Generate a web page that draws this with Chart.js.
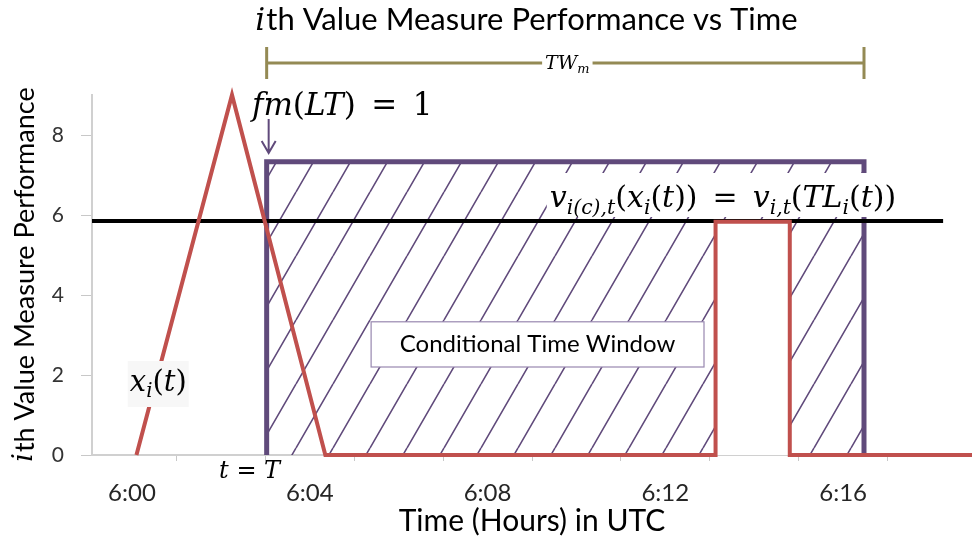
<!DOCTYPE html>
<html>
<head>
<meta charset="utf-8">
<title>ith Value Measure Performance vs Time</title>
<script src="https://cdn.jsdelivr.net/npm/chart.js@4.4.0/dist/chart.umd.min.js"></script>
<style>
  html, body { margin: 0; padding: 0; background: #fff; }
  canvas { display: block; }
</style>
</head>
<body>
<canvas id="chart" width="972" height="539"></canvas>
<script>
// time is in minutes after 6:00 UTC
const tickMinutes = [0, 4, 8, 12, 16]
const tickLabels = ['6:00', '6:04', '6:08', '6:12', '6:16']
const yTicks = [0, 2, 4, 6, 8]

// x_i(t): the red performance curve
const xiTime = [0.1, 2.25, 4.35, 13.13, 13.13, 14.8, 14.8, 18.9]
const xiValue = [0, 9, 0, 0, 5.83, 5.83, 0, 0]

// conditional time window (hatched)
const windowTime = [3.03, 3.03, 16.47, 16.47]
const windowValue = [0, 7.33, 7.33, 0]

// threshold v_i,t(TL_i(t))
const thresholdTime = [-0.9, 18.25]
const thresholdValue = [5.85, 5.85]

const xMin = -0.9
const xMax = 18.9
const yMax = 9

const red = '#C0504D'
const purple = '#604A7B'
const olive = '#948A54'
const textFont = "Lato, 'Open Sans', sans-serif"
const mathFont = "'DejaVu Serif', serif"
const gap = '\u2002'

const canvas = document.getElementById('chart')
const mainCtx = canvas.getContext('2d')

const toPoints = (xs, ys) => xs.map((v, i) => ({ x: v, y: ys[i] }))

const makeHatch = () => {
  const w = 37
  const h = 64
  const c = document.createElement('canvas')
  c.width = w
  c.height = h
  const g = c.getContext('2d')
  g.strokeStyle = purple
  g.lineWidth = 1.6
  g.beginPath()
  for (const dx of [-w, 0, w]) {
    g.moveTo(dx, h)
    g.lineTo(dx + w, 0)
  }
  g.stroke()
  return mainCtx.createPattern(c, 'repeat')
}

// draws a list of [text, style] pieces; style: i = italic, s = subscript
const drawMath = (ctx, parts, x, y, size, measureOnly) => {
  let cx = x
  parts.forEach(([text, style]) => {
    const sub = style.includes('s')
    const fs = sub ? size * 0.68 : size
    ctx.font = `${style.includes('i') ? 'italic ' : ''}${fs}px ${mathFont}`
    if (!measureOnly) ctx.fillText(text, cx, sub ? y + size * 0.22 : y)
    cx += ctx.measureText(text).width
  })
  return cx - x
}

const drawItalicLead = (ctx, rest, cx, cy, size) => {
  ctx.font = `italic ${size}px ${mathFont}`
  const w1 = ctx.measureText('i').width
  ctx.font = `${size}px ${textFont}`
  const w2 = ctx.measureText(rest).width
  const left = cx - (w1 + w2) / 2
  ctx.textAlign = 'left'
  ctx.font = `italic ${size}px ${mathFont}`
  ctx.fillText('i', left, cy)
  ctx.font = `${size}px ${textFont}`
  ctx.fillText(rest, left + w1 + 1, cy)
}

const annotations = {
  id: 'annotations',
  afterDraw (chart) {
    const { ctx, scales: { x, y } } = chart
    const px = v => x.getPixelForValue(v)
    const py = v => y.getPixelForValue(v)
    ctx.save()
    ctx.fillStyle = '#000'
    ctx.textBaseline = 'alphabetic'

    // chart title
    drawItalicLead(ctx, 'th Value Measure Performance vs Time', 526, 30, 31)

    // y axis title
    ctx.save()
    ctx.translate(25, (y.top + y.bottom) / 2)
    ctx.rotate(-Math.PI / 2)
    ctx.textBaseline = 'middle'
    drawItalicLead(ctx, 'th Value Measure Performance', 0, 0, 27)
    ctx.restore()

    // TW_m bracket over the window
    const bx1 = px(windowTime[0])
    const bx2 = px(windowTime[3])
    const by = py(9.8)
    ctx.strokeStyle = olive
    ctx.lineWidth = 3
    ctx.beginPath()
    ctx.moveTo(bx1, by); ctx.lineTo(bx2, by)
    ctx.moveTo(bx1, py(10.2)); ctx.lineTo(bx1, py(9.4))
    ctx.moveTo(bx2, py(10.2)); ctx.lineTo(bx2, py(9.4))
    ctx.stroke()
    const twParts = [['TW', 'i'], ['m', 'is']]
    const twW = drawMath(ctx, twParts, 0, 0, 19, true)
    const twX = (bx1 + bx2) / 2 - twW / 2 + 2
    ctx.fillStyle = '#fff'
    ctx.fillRect(twX - 3, by - 10, twW + 6, 20)
    ctx.fillStyle = '#000'
    drawMath(ctx, twParts, twX, by + 6, 19)

    // fm(LT) = 1 with arrow
    drawMath(ctx, [['fm', 'i'], ['(', 'r'], ['LT', 'i'], [')', 'r'], [gap + '=' + gap + '1', 'r']], px(2.7), py(8.5), 31)
    const ax = px(windowTime[0]) + 2
    ctx.strokeStyle = purple
    ctx.lineWidth = 2
    ctx.beginPath()
    ctx.moveTo(ax, py(8.4)); ctx.lineTo(ax, py(7.55))
    ctx.moveTo(ax - 7, py(7.85)); ctx.lineTo(ax, py(7.55)); ctx.lineTo(ax + 7, py(7.85))
    ctx.stroke()

    // v_i(c),t(x_i(t)) = v_i,t(TL_i(t))
    const eq = [
      ['v', 'i'], ['i(c),t', 'is'], ['(', 'r'], ['x', 'i'], ['i', 'is'], ['(', 'r'], ['t', 'i'], [')', 'r'], [')', 'r'],
      [gap + '=' + gap, 'r'],
      ['v', 'i'], ['i,t', 'is'], ['(', 'r'], ['TL', 'i'], ['i', 'is'], ['(', 'r'], ['t', 'i'], [')', 'r'], [')', 'r']
    ]
    const eqW = drawMath(ctx, eq, 0, 0, 30, true)
    const eqX = px(9.4)
    ctx.fillStyle = '#fff'
    ctx.fillRect(eqX - 3, py(7.05), eqW + 8, py(5.95) - py(7.05))
    ctx.fillStyle = '#000'
    drawMath(ctx, eq, eqX, py(6.2), 30)

    // x_i(t) label
    const xiParts = [['x', 'i'], ['i', 'is'], ['(', 'r'], ['t', 'i'], [')', 'r']]
    const xiW = drawMath(ctx, xiParts, 0, 0, 29, true)
    ctx.fillStyle = '#f7f7f7'
    ctx.fillRect(px(-0.05) - 2, py(2.35), xiW + 4, py(1.2) - py(2.35))
    ctx.fillStyle = '#000'
    drawMath(ctx, xiParts, px(-0.05), py(1.6), 29)

    // t = T
    drawMath(ctx, [['t', 'i'], [' = ', 'r'], ['T', 'i']], px(1.96), py(-0.58), 24)

    // Conditional Time Window box
    const cx1 = px(5.38)
    const cx2 = px(12.87)
    const cy1 = py(3.33)
    const cy2 = py(2.2)
    ctx.fillStyle = '#fff'
    ctx.fillRect(cx1, cy1, cx2 - cx1, cy2 - cy1)
    ctx.strokeStyle = '#9888B0'
    ctx.lineWidth = 1.2
    ctx.strokeRect(cx1, cy1, cx2 - cx1, cy2 - cy1)
    ctx.fillStyle = '#000'
    ctx.font = `24px ${textFont}`
    ctx.textAlign = 'center'
    ctx.textBaseline = 'middle'
    ctx.fillText('Conditional Time Window', (cx1 + cx2) / 2, (cy1 + cy2) / 2)
    ctx.restore()
  }
}

const xiPoints = toPoints(xiTime, xiValue)

const chart = new Chart(canvas, {
  type: 'line',
  data: {
    datasets: [{
      label: 'x_i(t)',
      data: xiPoints,
      borderColor: red,
      borderWidth: 4,
      pointRadius: 0,
      fill: false,
      order: 0,
      clip: false
    }, {
      label: 'threshold',
      data: toPoints(thresholdTime, thresholdValue),
      borderColor: '#000',
      borderWidth: 4,
      pointRadius: 0,
      fill: false,
      order: 1
    }, {
      label: 'pulse',
      data: xiPoints.slice(3, 7),
      borderColor: 'transparent',
      borderWidth: 0,
      backgroundColor: '#fff',
      pointRadius: 0,
      fill: 'origin',
      order: 2
    }, {
      label: 'window',
      data: toPoints(windowTime, windowValue),
      borderColor: purple,
      borderWidth: 5,
      backgroundColor: makeHatch(),
      pointRadius: 0,
      fill: 'origin',
      order: 3
    }]
  },
  options: {
    responsive: false,
    animation: false,
    layout: { padding: { top: 95, left: 0, right: 0, bottom: 0 } },
    plugins: {
      legend: { display: false },
      tooltip: { enabled: false },
      title: { display: false }
    },
    scales: {
      x: {
        type: 'linear',
        min: xMin,
        max: xMax,
        afterBuildTicks: s => {
          s.ticks = Array.from({ length: 19 }, (_, i) => ({ value: i }))
        },
        afterFit: s => { s.height = 84 },
        border: { color: '#D0D0D0', width: 2 },
        grid: {
          drawOnChartArea: false,
          tickLength: 6,
          tickColor: c => (c.tick && c.tick.value % 2 === 1) ? '#C8C8C8' : 'transparent'
        },
        ticks: {
          autoSkip: false,
          maxRotation: 0,
          padding: 18,
          color: '#262626',
          font: { family: textFont, size: 24 },
          callback: v => {
            const k = tickMinutes.indexOf(v)
            return k >= 0 ? tickLabels[k] : ''
          }
        },
        title: {
          display: true,
          text: 'Time (Hours) in UTC',
          color: '#000',
          font: { family: textFont, size: 30 },
          padding: { top: 0, bottom: 0 }
        }
      },
      y: {
        min: 0,
        max: yMax,
        afterBuildTicks: s => {
          s.ticks = yTicks.map(v => ({ value: v }))
        },
        afterFit: s => { s.width = 92 },
        border: { color: '#D0D0D0', width: 2 },
        grid: {
          drawOnChartArea: false,
          tickLength: 11,
          tickColor: '#C8C8C8'
        },
        ticks: {
          padding: 17,
          color: '#333333',
          font: { family: textFont, size: 21 }
        }
      }
    }
  },
  plugins: [annotations]
})
</script>
</body>
</html>
